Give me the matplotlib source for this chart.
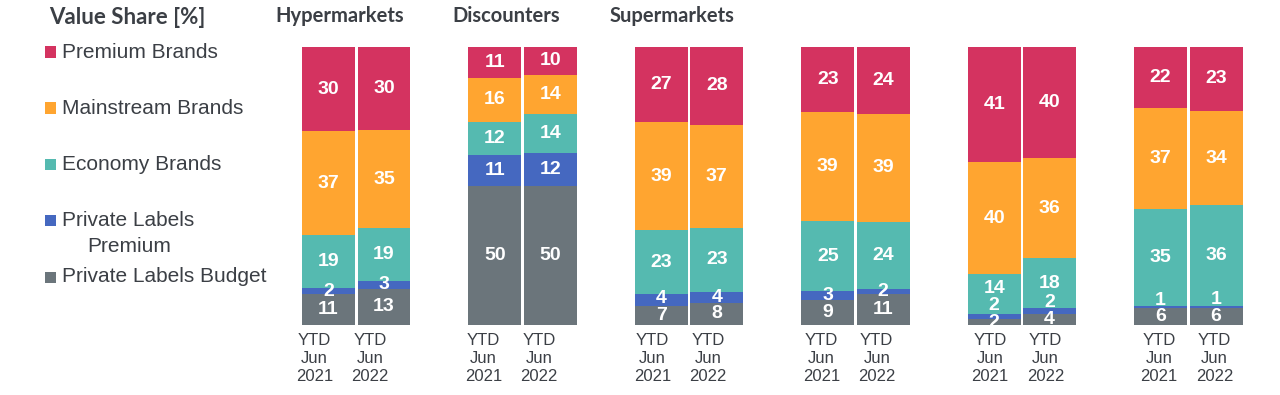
import numpy as np
import matplotlib.pyplot as plt
from matplotlib.patches import Rectangle
from matplotlib.transforms import blended_transform_factory

# segment order, bottom to top
colors = ["#6b757b", "#4568c0", "#55bab0", "#ffa530", "#d43360"]

channels = ["Hypermarkets", "Discounters", "Supermarkets", "", "", ""]
periods = ["YTD\nJun\n2021", "YTD\nJun\n2022"]

# values per channel: [2021, 2022], each bottom -> top
hyper = [[11, 2, 19, 37, 30], [13, 3, 19, 35, 30]]
disc = [[50, 11, 12, 16, 11], [50, 12, 14, 14, 10]]
superm = [[7, 4, 23, 39, 27], [8, 4, 23, 37, 28]]
group4 = [[9, 3, 25, 39, 23], [11, 2, 24, 39, 24]]
group5 = [[2, 2, 14, 40, 41], [4, 2, 18, 36, 40]]
group6 = [[6, 1, 35, 37, 22], [6, 1, 36, 34, 23]]
groups = [hyper, disc, superm, group4, group5, group6]

leg_labels = ["Premium Brands", "Mainstream Brands", "Economy Brands",
              "Private Labels\nPremium", "Private Labels Budget"]

text_col = "#3b3f45"
W, H = 1280, 395
px = 1 / 55.47  # one pixel in x data units

fig = plt.figure(figsize=(W / 100, H / 100), dpi=100)
ax = fig.add_axes([300.8 / W, 70 / H, 943 / W, 278 / H])
ax.set_xlim(-0.5, 16.5)
ax.set_ylim(0, 100)
title_tr = blended_transform_factory(ax.transData, fig.transFigure)

ticks, tlabels = [], []
for g, grp in enumerate(groups):
    for b, vals in enumerate(grp):
        x = g * 3 + b
        # category labels sit a little left of the bars, less so further right
        ticks.append(x - (14 - 2.5 * g) * px)
        tlabels.append(periods[b])
        vals = np.array(vals, dtype=float)
        share = vals / vals.sum() * 100
        bottom = 0.0
        prev_y = -100
        for v, s, c in zip(vals, share, colors):
            ax.bar(x, s, bottom=bottom, width=0.955, color=c, linewidth=0)
            y = max(bottom + s / 2, prev_y + 6)
            ax.text(x, y, f"{int(v)}", ha="center", va="center", color="white",
                    fontsize=14, fontweight="bold", family="Liberation Sans")
            prev_y = y
            bottom += s
    if channels[g]:
        fig.text(g * 3 + 0.2, 1 - 16 / H, channels[g], ha="center", va="center",
                 fontsize=14.5, fontweight="bold", family="Lato", color=text_col,
                 transform=title_tr)

ax.set_xticks(ticks)
ax.set_xticklabels(tlabels, fontsize=12, color=text_col, family="Liberation Sans",
                   linespacing=1.25)
ax.tick_params(axis="x", length=0, pad=6)
ax.set_yticks([])
for sp in ax.spines.values():
    sp.set_visible(False)

# legend drawn by hand
fig.text(49 / W, 1 - 17 / H, "Value Share [%]", ha="left", va="center", fontsize=16,
         fontweight="bold", family="Lato", color=text_col)
leg_y = [52, 108, 164, 221, 277]
for yy, lab, c in zip(leg_y, leg_labels, colors[::-1]):
    fig.add_artist(Rectangle((45 / W, 1 - (yy + 5.5) / H), 11 / W, 11 / H,
                             transform=fig.transFigure, color=c, lw=0))
    for i, line in enumerate(lab.split("\n")):
        fig.text((62 + 25 * i) / W, 1 - (yy + 25 * i) / H, line, ha="left",
                 va="center", fontsize=15, family="Liberation Sans", color=text_col)

fig.savefig("out.png", dpi=100)
